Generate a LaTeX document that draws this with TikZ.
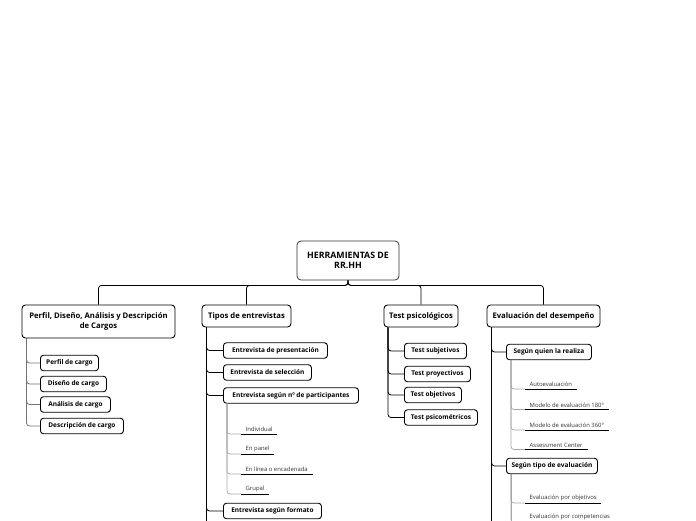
\documentclass[tikz,border=0pt]{standalone}
\usepackage{fontspec}
\setmainfont{Open Sans}
\begin{document}
\begin{tikzpicture}[x=1pt,y=-1pt,
 rootbox/.style={draw=black!80, line width=0.8pt, rounded corners=4pt, fill=white, font=\bfseries\fontsize{8.8}{10.5}\selectfont, align=center, minimum width=102pt, minimum height=39pt, inner sep=2pt},
 mainbox/.style={draw=black, line width=0.9pt, rounded corners=3.5pt, fill=white, font=\bfseries\fontsize{7.7}{9.5}\selectfont, align=center, minimum height=22pt, inner sep=2pt},
 subbox/.style={draw=black, line width=0.9pt, rounded corners=3pt, fill=white, font=\bfseries\fontsize{6.5}{7.5}\selectfont, minimum height=15.5pt, inner sep=1.5pt, anchor=west},
 leaf/.style={font=\fontsize{5.9}{6.8}\selectfont, text=black!80, anchor=south west, inner xsep=4.5pt, inner ysep=2.2pt},
 conn/.style={draw=black, line width=0.8pt, rounded corners=3pt},
 greyconn/.style={draw=black!55, line width=0.8pt, rounded corners=3pt},
 leafconn/.style={draw=black!35, line width=0.7pt, rounded corners=3pt},
 uline/.style={draw=black, line width=0.9pt}]
\useasboundingbox (0,0) rectangle (696,520);
\clip (0,0) rectangle (696,520);
\coordinate (bottom) at (0,530);
% root
\node[rootbox] (root) at (348,260.5) {HERRAMIENTAS DE\\RR.HH};
% main branches
\node[mainbox, minimum width=153pt, minimum height=33pt] (b1) at (98.5,321.5) {Perfil, Diseño, Análisis y Descripción\\de Cargos};
\node[mainbox, minimum width=89pt] (b2) at (246.5,316) {Tipos de entrevistas};
\node[mainbox, minimum width=74pt] (b3) at (421,316) {Test psicológicos};
\node[mainbox, minimum width=113pt] (b4) at (543.5,316) {Evaluación del desempeño};
\foreach \b in {b1,b2,b3,b4} {\draw[conn] (root.south) -- ++(0,5) -| (\b.north);}
% branch 1
\node[subbox, minimum width=58pt] (c11) at (40,363) {Perfil de cargo};
\node[subbox, minimum width=66pt] (c12) at (40,384) {Diseño de cargo};
\node[subbox, minimum width=70pt] (c13) at (40,404.5) {Análisis de cargo};
\node[subbox, minimum width=83pt] (c14) at (40,426) {Descripción de cargo};
\coordinate (v1) at ([xshift=5pt]b1.south west);
\foreach \c in {c11,c12,c13,c14} {\draw[greyconn] (v1) |- (\c.west);}
% branch 2
\node[subbox, minimum width=104pt] (c21) at (223,350.5) {Entrevista de presentación};
\node[subbox, minimum width=88pt] (c22) at (223,372.5) {Entrevista de selección};
\node[subbox, minimum width=135pt] (c23) at (223,395.5) {Entrevista según nº de participantes};
\node[subbox, minimum width=98pt] (c24) at (223,511) {Entrevista según formato};
\coordinate (v2) at ([xshift=5pt]b2.south west);
\draw[conn] (v2) -- (v2 |- bottom);
\foreach \c in {c21,c22,c23,c24} {\draw[conn] (v2) |- (\c.west);}
% leaves of c23
\node[leaf] (l1) at (241,434) {Individual};
\node[leaf] (l2) at (241,454) {En panel};
\node[leaf] (l3) at (241,474) {En línea o encadenada};
\node[leaf] (l4) at (241,494) {Grupal};
\coordinate (v23) at ([xshift=4pt]c23.south west);
\foreach \l in {l1,l2,l3,l4} {\draw[leafconn] (v23) |- (\l.south west);}
\draw[uline] (l1.south west) -- ++(36,0);
\draw[uline] (l2.south west) -- ++(33,0);
\draw[uline] (l3.south west) -- ++(72,0);
\draw[uline] (l4.south west) -- ++(28,0);
% branch 3
\node[subbox, minimum width=62pt] (c31) at (404,351) {Test subjetivos};
\node[subbox, minimum width=66pt] (c32) at (404,374) {Test proyectivos};
\node[subbox, minimum width=57pt] (c33) at (404,395) {Test objetivos};
\node[subbox, minimum width=73pt] (c34) at (404,417.5) {Test psicométricos};
\coordinate (v3) at ([xshift=4.5pt]b3.south west);
\foreach \c in {c31,c32,c33,c34} {\draw[conn] (v3) |- (\c.west);}
% branch 4
\node[subbox, minimum width=85pt] (c41) at (506,352) {Según quien la realiza};
\node[subbox, minimum width=91pt] (c42) at (506,466) {Según tipo de evaluación};
\coordinate (v4) at ([xshift=5pt]b4.south west);
\draw[conn] (v4) -- (v4 |- bottom);
\foreach \c in {c41,c42} {\draw[conn] (v4) |- (\c.west);}
\node[leaf] (m1) at (525,389) {Autoevaluación};
\node[leaf] (m2) at (525,409.5) {Modelo de evaluación 180°};
\node[leaf] (m3) at (525,430) {Modelo de evaluación 360°};
\node[leaf] (m4) at (525,449.5) {Assessment Center};
\coordinate (v41) at ([xshift=5pt]c41.south west);
\foreach \l in {m1,m2,m3,m4} {\draw[leafconn] (v41) |- (\l.south west);}
\draw[uline] (m1.south west) -- ++(52,0);
\draw[uline] (m2.south west) -- ++(84,0);
\draw[uline] (m3.south west) -- ++(84,0);
\draw[uline] (m4.south west) -- ++(63,0);
\node[leaf] (n1) at (525,503) {Evaluación por objetivos};
\node[leaf] (n2) at (525,522.5) {Evaluación por competencias};
\coordinate (v42) at ([xshift=5pt]c42.south west);
\draw[leafconn] (v42) -- (v42 |- bottom);
\foreach \l in {n1,n2} {\draw[leafconn] (v42) |- (\l.south west);}
\draw[uline] (n1.south west) -- ++(76,0);
\draw[uline] (n2.south west) -- ++(85,0);
\end{tikzpicture}
\end{document}
